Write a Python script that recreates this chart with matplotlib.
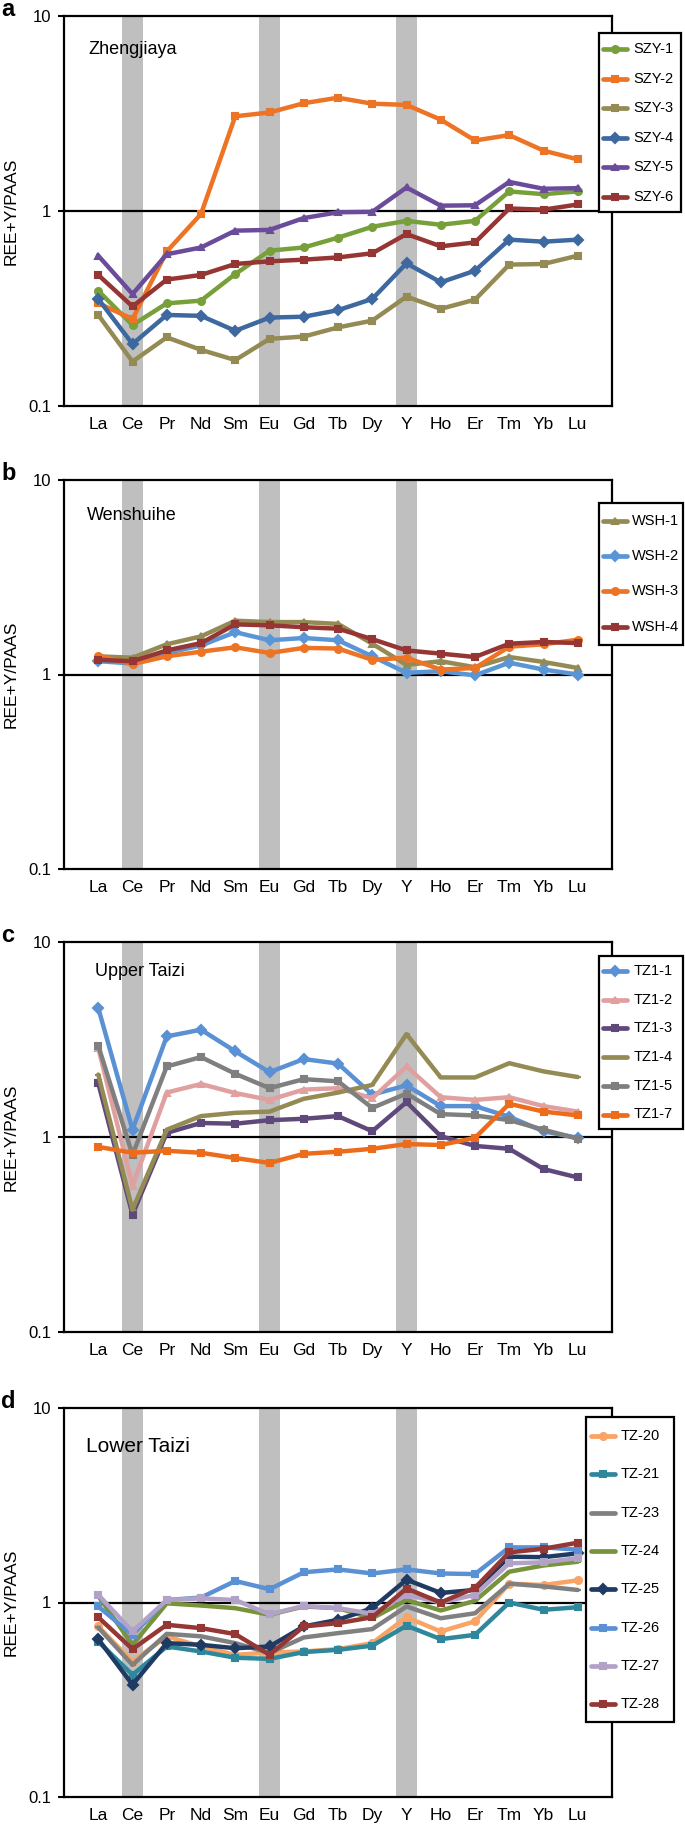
import matplotlib
matplotlib.use("Agg")
import matplotlib.pyplot as plt
from matplotlib.ticker import FixedLocator, NullLocator
from matplotlib.lines import Line2D
from matplotlib.patches import Rectangle

plt.rcParams['font.family'] = ['Liberation Sans', 'DejaVu Sans']

elements = ["La", "Ce", "Pr", "Nd", "Sm", "Eu", "Gd", "Tb", "Dy", "Y", "Ho", "Er", "Tm", "Yb", "Lu"]
shaded = ["Ce", "Eu", "Y"]

# Panel a: Zhengjiaya
szy_names = ["SZY-1", "SZY-2", "SZY-3", "SZY-4", "SZY-5", "SZY-6"]
szy1 = [0.39, 0.26, 0.336, 0.347, 0.475, 0.626, 0.65, 0.73, 0.83, 0.89, 0.85, 0.89, 1.26, 1.22, 1.26]
szy2 = [0.337, 0.279, 0.62, 0.965, 3.06, 3.2, 3.57, 3.81, 3.55, 3.5, 2.94, 2.30, 2.45, 2.04, 1.84]
szy3 = [0.293, 0.169, 0.225, 0.194, 0.172, 0.221, 0.227, 0.253, 0.274, 0.364, 0.315, 0.351, 0.531, 0.535, 0.59]
szy4 = [0.354, 0.208, 0.293, 0.29, 0.243, 0.284, 0.287, 0.31, 0.354, 0.539, 0.431, 0.494, 0.713, 0.696, 0.713]
szy5 = [0.59, 0.375, 0.60, 0.65, 0.793, 0.80, 0.92, 0.985, 0.99, 1.32, 1.065, 1.07, 1.41, 1.30, 1.31]
szy6 = [0.47, 0.324, 0.445, 0.47, 0.535, 0.552, 0.563, 0.578, 0.607, 0.762, 0.659, 0.69, 1.03, 1.016, 1.08]
szy_colors = ["#77a03a", "#ec7424", "#948a54", "#3e68a0", "#6b4c9a", "#963634"]
szy_markers = ["o", "s", "s", "D", "^", "s"]

# Panel b: Wenshuihe
wsh_names = ["WSH-1", "WSH-2", "WSH-3", "WSH-4"]
wsh1 = [1.24, 1.22, 1.43, 1.57, 1.89, 1.86, 1.86, 1.82, 1.44, 1.12, 1.17, 1.09, 1.23, 1.16, 1.08]
wsh2 = [1.17, 1.14, 1.29, 1.41, 1.65, 1.50, 1.54, 1.50, 1.24, 1.02, 1.04, 0.99, 1.15, 1.06, 1.00]
wsh3 = [1.25, 1.13, 1.24, 1.31, 1.38, 1.29, 1.37, 1.36, 1.19, 1.22, 1.06, 1.08, 1.39, 1.43, 1.51]
wsh4 = [1.19, 1.17, 1.33, 1.45, 1.81, 1.79, 1.75, 1.72, 1.52, 1.33, 1.28, 1.23, 1.44, 1.47, 1.45]
wsh_colors = ["#948a54", "#5a96d6", "#ec7424", "#963634"]
wsh_markers = ["^", "D", "o", "s"]

# Panel c: Upper Taizi
tz1_names = ["TZ1-1", "TZ1-2", "TZ1-3", "TZ1-4", "TZ1-5", "TZ1-7"]
tz1_1 = [4.59, 1.09, 3.28, 3.55, 2.75, 2.15, 2.51, 2.38, 1.65, 1.84, 1.44, 1.44, 1.27, 1.07, 0.99]
tz1_2 = [2.86, 0.563, 1.69, 1.87, 1.68, 1.55, 1.75, 1.78, 1.58, 2.30, 1.60, 1.55, 1.60, 1.44, 1.35]
tz1_3 = [1.89, 0.40, 1.05, 1.18, 1.17, 1.22, 1.24, 1.28, 1.07, 1.51, 1.01, 0.90, 0.87, 0.685, 0.62]
tz1_4 = [2.09, 0.424, 1.09, 1.28, 1.33, 1.35, 1.57, 1.69, 1.85, 3.37, 2.02, 2.02, 2.39, 2.17, 2.03]
tz1_5 = [2.94, 0.81, 2.30, 2.57, 2.11, 1.78, 1.98, 1.93, 1.41, 1.67, 1.31, 1.29, 1.22, 1.09, 0.98]
tz1_7 = [0.89, 0.83, 0.85, 0.83, 0.78, 0.736, 0.82, 0.84, 0.87, 0.92, 0.91, 0.99, 1.48, 1.35, 1.29]
tz1_colors = ["#5a90d4", "#e0a0a0", "#5f497a", "#948a54", "#7f7f7f", "#ec6c1c"]
tz1_markers = ["D", "^", "s", "_", "s", "s"]

# Panel d: Lower Taizi
tz_names = ["TZ-20", "TZ-21", "TZ-23", "TZ-24", "TZ-25", "TZ-26", "TZ-27", "TZ-28"]
tz20 = [0.753, 0.497, 0.67, 0.594, 0.538, 0.553, 0.56, 0.576, 0.618, 0.84, 0.71, 0.80, 1.25, 1.23, 1.30]
tz21 = [0.63, 0.425, 0.594, 0.56, 0.52, 0.513, 0.556, 0.571, 0.60, 0.76, 0.648, 0.682, 1.00, 0.917, 0.946]
tz23 = [0.744, 0.478, 0.69, 0.67, 0.618, 0.55, 0.661, 0.696, 0.73, 0.954, 0.83, 0.88, 1.25, 1.21, 1.16]
tz24 = [1.08, 0.606, 0.99, 0.965, 0.935, 0.865, 0.954, 0.935, 0.83, 1.03, 0.91, 1.02, 1.44, 1.55, 1.62]
tz25 = [0.648, 0.378, 0.618, 0.606, 0.582, 0.594, 0.753, 0.815, 0.935, 1.31, 1.12, 1.16, 1.72, 1.71, 1.79]
tz26 = [0.954, 0.682, 1.03, 1.06, 1.29, 1.17, 1.43, 1.48, 1.41, 1.48, 1.41, 1.40, 1.92, 1.92, 1.87]
tz27 = [1.095, 0.71, 1.03, 1.05, 1.03, 0.87, 0.96, 0.935, 0.875, 1.095, 1.00, 1.095, 1.59, 1.61, 1.69]
tz28 = [0.84, 0.576, 0.768, 0.738, 0.688, 0.539, 0.753, 0.783, 0.84, 1.18, 1.00, 1.19, 1.81, 1.89, 2.03]
tz_colors = ["#f9a465", "#2f879c", "#808080", "#77933c", "#1f3a63", "#5a90d4", "#b3a2c7", "#953735"]
tz_markers = ["o", "s", "_", "_", "D", "s", "s", "s"]

# layout (pixels): axes top/bottom, title position, legend box and row geometry
panels = [
    dict(letter="a", title="Zhengjiaya", names=szy_names, data=[szy1, szy2, szy3, szy4, szy5, szy6],
         colors=szy_colors, markers=szy_markers, top=16, bottom=406, tx=88, ty=50, tsize=13,
         box=(599, 33, 681, 212), row0=49, rowstep=29.6, hx=(603, 627), textx=633),
    dict(letter="b", title="Wenshuihe", names=wsh_names, data=[wsh1, wsh2, wsh3, wsh4],
         colors=wsh_colors, markers=wsh_markers, top=480, bottom=869, tx=87, ty=516, tsize=13,
         box=(599, 503, 683, 645), row0=521, rowstep=35.2, hx=(603, 627), textx=632),
    dict(letter="c", title="Upper Taizi", names=tz1_names, data=[tz1_1, tz1_2, tz1_3, tz1_4, tz1_5, tz1_7],
         colors=tz1_colors, markers=tz1_markers, top=942, bottom=1332, tx=95, ty=971, tsize=13,
         box=(599, 956, 683, 1129), row0=971, rowstep=28.7, hx=(603, 627), textx=634),
    dict(letter="d", title="Lower Taizi", names=tz_names, data=[tz20, tz21, tz23, tz24, tz25, tz26, tz27, tz28],
         colors=tz_colors, markers=tz_markers, top=1408, bottom=1797, tx=86, ty=1447, tsize=15,
         box=(586, 1417, 674, 1722), row0=1436, rowstep=38.3, hx=(591, 615), textx=621),
]

W, H = 685, 1825
fig = plt.figure(figsize=(W / 100, H / 100), dpi=100)
x = list(range(1, len(elements) + 1))


def fx(px):
    return px / W


def fy(py):
    return 1 - py / H


for p in panels:
    ax = fig.add_axes([fx(64), fy(p["bottom"]), 548 / W, (p["bottom"] - p["top"]) / H])
    ax.set_yscale("log")
    ax.set_ylim(0.1, 10)
    ax.set_xlim(0, 16)
    for el in shaded:
        xi = elements.index(el) + 1
        ax.axvspan(xi - 0.32, xi + 0.32, color="#bfbfbf", lw=0, zorder=0)
    ax.axhline(1, color="black", lw=1.6, zorder=1)
    for name, vals, c, m in zip(p["names"], p["data"], p["colors"], p["markers"]):
        ax.plot(x, vals, color=c, lw=3.2, marker=m, markersize=5, markeredgewidth=1.5,
                markeredgecolor=c, markerfacecolor=c, label=name, zorder=3,
                solid_joinstyle="round", solid_capstyle="round")
    ax.set_xticks(x)
    ax.set_xticklabels(elements, fontsize=12.5)
    ax.tick_params(axis="x", length=0, pad=8)
    ax.yaxis.set_major_locator(FixedLocator([0.1, 1, 10]))
    ax.yaxis.set_minor_locator(NullLocator())
    ax.set_yticklabels(["0.1", "1", "10"], fontsize=12)
    ax.tick_params(axis="y", length=4, width=1.5, pad=5, direction="out")
    for s in ax.spines.values():
        s.set_linewidth(1.6)
        s.set_color("black")
    ax.set_ylabel("REE+Y/PAAS", fontsize=12.5)
    ax.yaxis.set_label_coords(-0.083, 0.5)
    fig.text(fx(p["tx"]), fy(p["ty"]), p["title"], fontsize=p["tsize"], va="center", ha="left")
    fig.text(fx(1), fy(p["top"]), p["letter"], fontsize=17, fontweight="bold", va="baseline", ha="left")

    # legend box drawn explicitly
    x0, y0, x1, y1 = p["box"]
    fig.add_artist(Rectangle((fx(x0), fy(y1)), fx(x1) - fx(x0), fy(y0) - fy(y1),
                             transform=fig.transFigure, facecolor="white", edgecolor="black",
                             linewidth=1.6, zorder=10))
    hx0, hx1 = p["hx"]
    for i, (name, c, m) in enumerate(zip(p["names"], p["colors"], p["markers"])):
        yy = fy(p["row0"] + i * p["rowstep"])
        fig.add_artist(Line2D([fx(hx0), fx((hx0 + hx1) / 2), fx(hx1)], [yy, yy, yy],
                              transform=fig.transFigure, color=c, lw=3.4, marker=m, markevery=[1],
                              markersize=5, markeredgewidth=1.5, markerfacecolor=c, markeredgecolor=c,
                              solid_capstyle="round", zorder=11))
        fig.text(fx(p["textx"]), yy, name, fontsize=10.5, va="center", ha="left", zorder=11)

fig.savefig("out.png", dpi=100)
